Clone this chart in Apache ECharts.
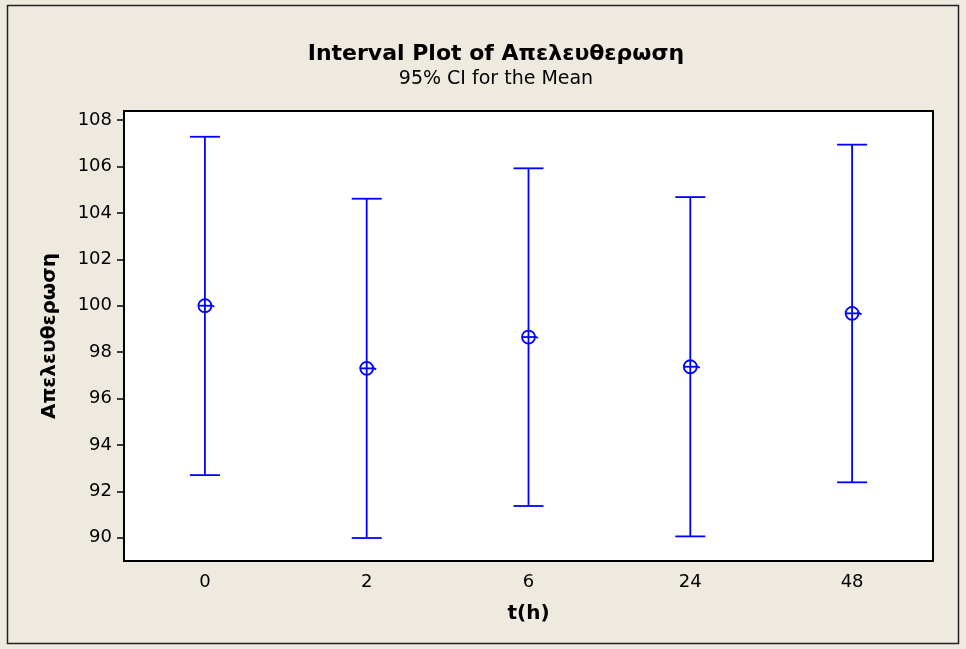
<!DOCTYPE html>
<html>
<head>
<meta charset="utf-8">
<script src="https://cdn.jsdelivr.net/npm/echarts@6/dist/echarts.min.js"></script>
<style>
  html, body { margin: 0; padding: 0; background: #EEEAE0; }
  #chart { width: 966px; height: 649px; }
</style>
</head>
<body>
<div id="chart"></div>
<script>
// Release time points (hours)
const categories = ['0', '2', '6', '24', '48'];
// Mean release and 95% confidence bounds per time point
const means = [100.0, 97.3, 98.65, 97.37, 99.67];
const lowerCI = [92.70, 89.99, 91.37, 90.06, 92.39];
const upperCI = [107.28, 104.61, 105.92, 104.68, 106.94];
// Y-axis tick values
const yTicks = [90, 92, 94, 96, 98, 100, 102, 104, 106, 108];

const FONT = 'DejaVu Sans';
const BLUE = '#0000FF';

const intervalData = categories.map((c, i) => [i, means[i], lowerCI[i], upperCI[i]]);

// Whisker with end caps plus a crossed circle at the mean
function renderInterval(params, api) {
  const x = api.value(0);
  const hi = api.coord([x, api.value(3)]);
  const lo = api.coord([x, api.value(2)]);
  const m = api.coord([x, api.value(1)]);
  const cap = 15, r = 6.5;
  const style = { stroke: BLUE, lineWidth: 1.8, fill: null };
  return {
    type: 'group',
    children: [
      { type: 'line', shape: { x1: hi[0], y1: hi[1], x2: lo[0], y2: lo[1] }, style },
      { type: 'line', shape: { x1: hi[0] - cap, y1: hi[1], x2: hi[0] + cap, y2: hi[1] }, style },
      { type: 'line', shape: { x1: lo[0] - cap, y1: lo[1], x2: lo[0] + cap, y2: lo[1] }, style },
      { type: 'circle', shape: { cx: m[0], cy: m[1], r: r }, style },
      { type: 'line', shape: { x1: m[0] - r, y1: m[1], x2: m[0] + r, y2: m[1] }, style },
      { type: 'line', shape: { x1: m[0] + r - 1, y1: m[1] - 1, x2: m[0] + r + 3, y2: m[1] + 1 }, style }
    ]
  };
}

const chart = echarts.init(document.getElementById('chart'), null, { renderer: 'canvas' });

chart.setOption({
  backgroundColor: '#EEEAE0',
  animation: false,
  title: {
    text: 'Interval Plot of Απελευθερωση',
    subtext: '95% CI for the Mean',
    left: 491,
    textAlign: 'center',
    top: 38,
    itemGap: 5,
    textStyle: { fontFamily: FONT, fontSize: 22, fontWeight: 'bold', color: '#000' },
    subtextStyle: { fontFamily: FONT, fontSize: 19, color: '#000' }
  },
  graphic: [
    {
      type: 'rect',
      shape: { x: 7.5, y: 5.5, width: 951, height: 638 },
      style: { fill: null, stroke: '#222', lineWidth: 1.5 },
      z: 0
    }
  ],
  grid: {
    left: 124, top: 111, width: 809, height: 450,
    show: true, backgroundColor: '#FFFFFF', borderColor: '#000', borderWidth: 2
  },
  xAxis: {
    type: 'category',
    data: categories,
    boundaryGap: true,
    name: 't(h)',
    nameLocation: 'middle',
    nameGap: 43,
    nameTextStyle: { fontFamily: FONT, fontSize: 20, fontWeight: 'bold', color: '#000' },
    axisLine: { lineStyle: { color: '#000', width: 2 } },
    axisTick: { alignWithLabel: true, length: 7, lineStyle: { color: '#000', width: 1.5 } },
    axisLabel: { fontFamily: FONT, fontSize: 18, color: '#000', margin: 12 },
    splitLine: { show: false }
  },
  yAxis: {
    type: 'value',
    min: 89.0,
    max: 108.39,
    name: 'Απελευθερωση',
    nameLocation: 'middle',
    nameGap: 64,
    nameTextStyle: { fontFamily: FONT, fontSize: 20, fontWeight: 'bold', color: '#000' },
    axisLine: { show: true, lineStyle: { color: '#000', width: 2 } },
    axisTick: { show: true, length: 7, customValues: yTicks, lineStyle: { color: '#000', width: 1.5 } },
    axisLabel: { fontFamily: FONT, fontSize: 18, color: '#000', margin: 12, customValues: yTicks },
    splitLine: { show: false }
  },
  series: [
    {
      type: 'custom',
      renderItem: renderInterval,
      data: intervalData,
      encode: { x: 0, y: [1, 2, 3] },
      clip: false
    }
  ]
});
</script>
</body>
</html>
